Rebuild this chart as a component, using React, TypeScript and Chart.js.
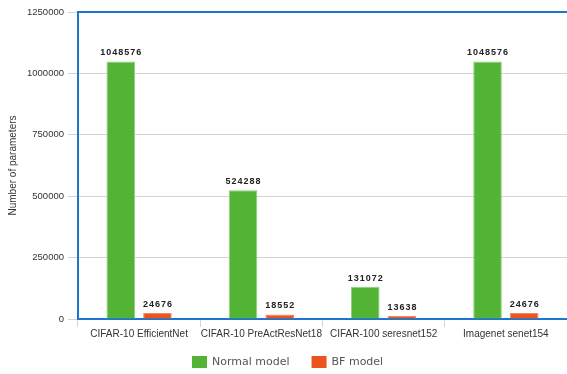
import React, { useEffect, useRef } from "react";
import { Chart, registerables } from "chart.js";

Chart.register(...registerables);

const categories = [
  "CIFAR-10 EfficientNet",
  "CIFAR-10 PreActResNet18",
  "CIFAR-100 seresnet152",
  "Imagenet senet154",
];
const normalModel = [1048576, 524288, 131072, 1048576];
const bfModel = [24676, 18552, 13638, 24676];
const yTicks = [0, 250000, 500000, 750000, 1000000, 1250000];

const GREEN = "#52b334";
const ORANGE = "#ec531e";
const BLUE = "#1d76cc";

// Draws the value above each bar, the top frame line and the legend row.
const decorations = {
  id: "decorations",
  afterDatasetsDraw(chart: any) {
    const { ctx, chartArea } = chart;
    ctx.save();
    ctx.strokeStyle = BLUE;
    ctx.lineWidth = 2;
    ctx.beginPath();
    ctx.moveTo(chartArea.left - 1, chartArea.top);
    ctx.lineTo(chart.width, chartArea.top);
    ctx.stroke();

    ctx.font = "bold 9px 'Liberation Sans', Arial, sans-serif";
    (ctx as any).letterSpacing = "1px";
    ctx.fillStyle = "#222";
    ctx.textAlign = "center";
    ctx.textBaseline = "bottom";
    chart.data.datasets.forEach((ds: any, i: number) => {
      const meta = chart.getDatasetMeta(i);
      meta.data.forEach((bar: any, j: number) => {
        ctx.fillText(String(ds.data[j]), bar.x + 0.5, bar.y - 4);
      });
    });
    ctx.restore();
  },
  afterDraw(chart: any) {
    const { ctx } = chart;
    const boxW = 15, boxH = 12, textGap = 5, itemGap = 22;
    ctx.save();
    ctx.font = "11px 'DejaVu Sans', sans-serif";
    ctx.textBaseline = "middle";
    ctx.textAlign = "left";
    const items = chart.data.datasets.map((ds: any) => ({
      label: ds.label,
      color: ds.backgroundColor,
      w: ctx.measureText(ds.label).width,
    }));
    const total = items.reduce((s: number, it: any) => s + boxW + textGap + it.w, 0) + itemGap * (items.length - 1);
    let x = Math.round(chart.width / 2 + 4 - total / 2);
    const cy = 362;
    items.forEach((it: any) => {
      ctx.fillStyle = it.color;
      ctx.fillRect(x, cy - boxH / 2, boxW, boxH);
      ctx.fillStyle = "#555";
      ctx.fillText(it.label, x + boxW + textGap, cy);
      x += boxW + textGap + it.w + itemGap;
    });
    ctx.restore();
  },
};

export default function App() {
  const ref = useRef<HTMLCanvasElement>(null);

  useEffect(() => {
    document.body.style.margin = "0";
    const chart = new Chart(ref.current!, {
      type: "bar",
      data: {
        labels: categories,
        datasets: [
          {
            label: "Normal model",
            data: normalModel,
            backgroundColor: GREEN,
            borderColor: "#8fd27a",
            borderWidth: 1,
            categoryPercentage: 0.6,
            barPercentage: 0.78,
          },
          {
            label: "BF model",
            data: bfModel,
            backgroundColor: ORANGE,
            borderColor: "#f08a62",
            borderWidth: 1,
            categoryPercentage: 0.6,
            barPercentage: 0.78,
          },
        ],
      },
      plugins: [decorations],
      options: {
        animation: false,
        responsive: false,
        layout: { padding: { top: 12, right: 0, left: 7, bottom: 33 } },
        plugins: {
          tooltip: { enabled: false },
          legend: { display: false },
        },
        scales: {
          x: {
            grid: {
              offset: true,
              drawOnChartArea: false,
              tickLength: 8,
              color: "#c9d6e3",
            },
            border: { color: BLUE, width: 2 },
            ticks: {
              color: "#333",
              padding: 1,
              maxRotation: 0,
              minRotation: 0,
              autoSkip: false,
              font: { family: "'Liberation Sans', Arial, sans-serif", size: 10 },
            },
          },
          y: {
            min: 0,
            max: 1250000,
            afterBuildTicks: (axis: any) => {
              axis.ticks = yTicks.map((v) => ({ value: v }));
            },
            grid: { color: "#d4d4d4", tickLength: 10, lineWidth: 1 },
            border: { color: BLUE, width: 2 },
            ticks: {
              color: "#333",
              padding: 4,
              callback: (v: any) => String(v),
              font: { family: "'Liberation Sans', Arial, sans-serif", size: 9.5 },
            },
            title: {
              display: true,
              text: "Number of parameters",
              color: "#333",
              padding: { top: 0, bottom: 4 },
              font: { family: "'Liberation Sans', Arial, sans-serif", size: 10 },
            },
          },
        },
      },
    });
    return () => chart.destroy();
  }, []);

  return <canvas ref={ref} width={567} height={374} style={{ display: "block" }} />;
}
